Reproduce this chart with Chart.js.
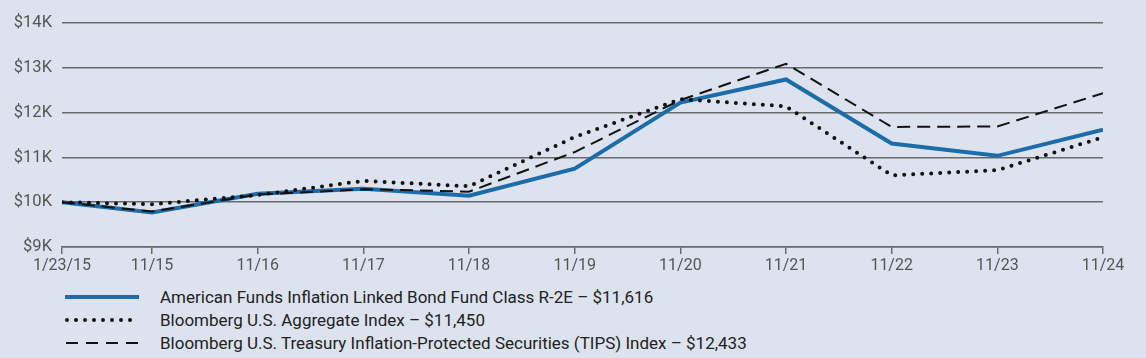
<!DOCTYPE html>
<html>
<head>
<meta charset="utf-8">
<script src="https://cdn.jsdelivr.net/npm/chart.js"></script>
<style>
  body { margin: 0; background: #dce3ef; width: 1146px; height: 358px; overflow: hidden; font-family: Roboto, sans-serif; }
  #wrap { position: relative; width: 1146px; height: 275px; }
  #legend { position: absolute; left: 65px; top: 285px; }
  .row { height: 23px; display: flex; align-items: center; font-size: 17px; color: #222; }
  .row svg { width: 74px; height: 10px; margin-right: 21px; }
</style>
</head>
<body>
<div id="wrap"><canvas id="growth"></canvas></div>
<div id="legend">
  <div class="row"><svg><line x1="0" y1="5" x2="74" y2="5" stroke="#1b6ca8" stroke-width="4"/></svg><span id="l0"></span></div>
  <div class="row"><svg><line x1="2" y1="5" x2="74" y2="5" stroke="#111" stroke-width="4" stroke-linecap="round" stroke-dasharray="0 9"/></svg><span id="l1"></span></div>
  <div class="row"><svg><line x1="1" y1="5" x2="74" y2="5" stroke="#111" stroke-width="2" stroke-dasharray="12 8"/></svg><span id="l2"></span></div>
</div>
<script>
// dates on the x axis and their position in years after 1/23/15
const dateLabels = ['1/23/15', '11/15', '11/16', '11/17', '11/18', '11/19', '11/20', '11/21', '11/22', '11/23', '11/24'];
const yearsIn = [0, 0.852, 1.852, 2.852, 3.852, 4.852, 5.852, 6.852, 7.852, 8.852, 9.852];

const fundValues = [10000, 9770, 10190, 10300, 10145, 10750, 12225, 12740, 11310, 11035, 11616];
const aggValues = [10000, 9955, 10160, 10475, 10355, 11455, 12300, 12140, 10600, 10715, 11450];
const tipsValues = [10000, 9790, 10170, 10290, 10235, 11120, 12280, 13090, 11680, 11690, 12433];

const seriesNames = [
  'American Funds Inflation Linked Bond Fund Class R-2E \u2013 $11,616',
  'Bloomberg U.S. Aggregate Index \u2013 $11,450',
  'Bloomberg U.S. Treasury Inflation-Protected Securities (TIPS) Index \u2013 $12,433'
];
const yTicks = [9000, 10000, 11000, 12000, 13000, 14000];

seriesNames.forEach((n, i) => document.getElementById('l' + i).textContent = n);

function pts(vals) {
  return vals.map((v, i) => ({ x: yearsIn[i], y: v }));
}

const gray = '#6a6a6a';

new Chart(document.getElementById('growth'), {
  type: 'line',
  data: {
    datasets: [
      { label: seriesNames[0], data: pts(fundValues), borderColor: '#1b6ca8', borderWidth: 4, pointRadius: 0, order: 3 },
      { label: seriesNames[1], data: pts(aggValues), borderColor: '#111', borderWidth: 4, borderDash: [0, 9], borderCapStyle: 'round', pointRadius: 0, order: 1 },
      { label: seriesNames[2], data: pts(tipsValues), borderColor: '#111', borderWidth: 2, borderDash: [13, 7], pointRadius: 0, order: 2 }
    ]
  },
  options: {
    responsive: true,
    maintainAspectRatio: false,
    animation: false,
    layout: { padding: { top: 23, right: 43, bottom: 0, left: 0 } },
    plugins: { legend: { display: false }, tooltip: { enabled: false } },
    scales: {
      x: {
        type: 'linear',
        min: 0,
        max: yearsIn[yearsIn.length - 1],
        afterBuildTicks: s => { s.ticks = yearsIn.map(v => ({ value: v })); },
        afterFit: s => { s.height = 28; },
        ticks: {
          autoSkip: false,
          maxRotation: 0,
          padding: 2,
          color: '#555',
          font: { family: 'Roboto', size: 16 },
          callback: (v, i) => dateLabels[i]
        },
        grid: { drawOnChartArea: false, drawTicks: true, tickLength: 7, color: gray, lineWidth: 1.5 },
        border: { display: true, color: gray, width: 1.5 }
      },
      y: {
        min: 9000,
        max: 14000,
        afterBuildTicks: s => { s.ticks = yTicks.map(v => ({ value: v })); },
        afterFit: s => { s.width = 62; },
        ticks: {
          padding: 10,
          color: '#555',
          font: { family: 'Roboto', size: 16.5 },
          callback: v => '$' + (v / 1000) + 'K'
        },
        grid: { drawTicks: false, color: gray, lineWidth: 1.5 },
        border: { display: false }
      }
    }
  }
});
</script>
</body>
</html>
